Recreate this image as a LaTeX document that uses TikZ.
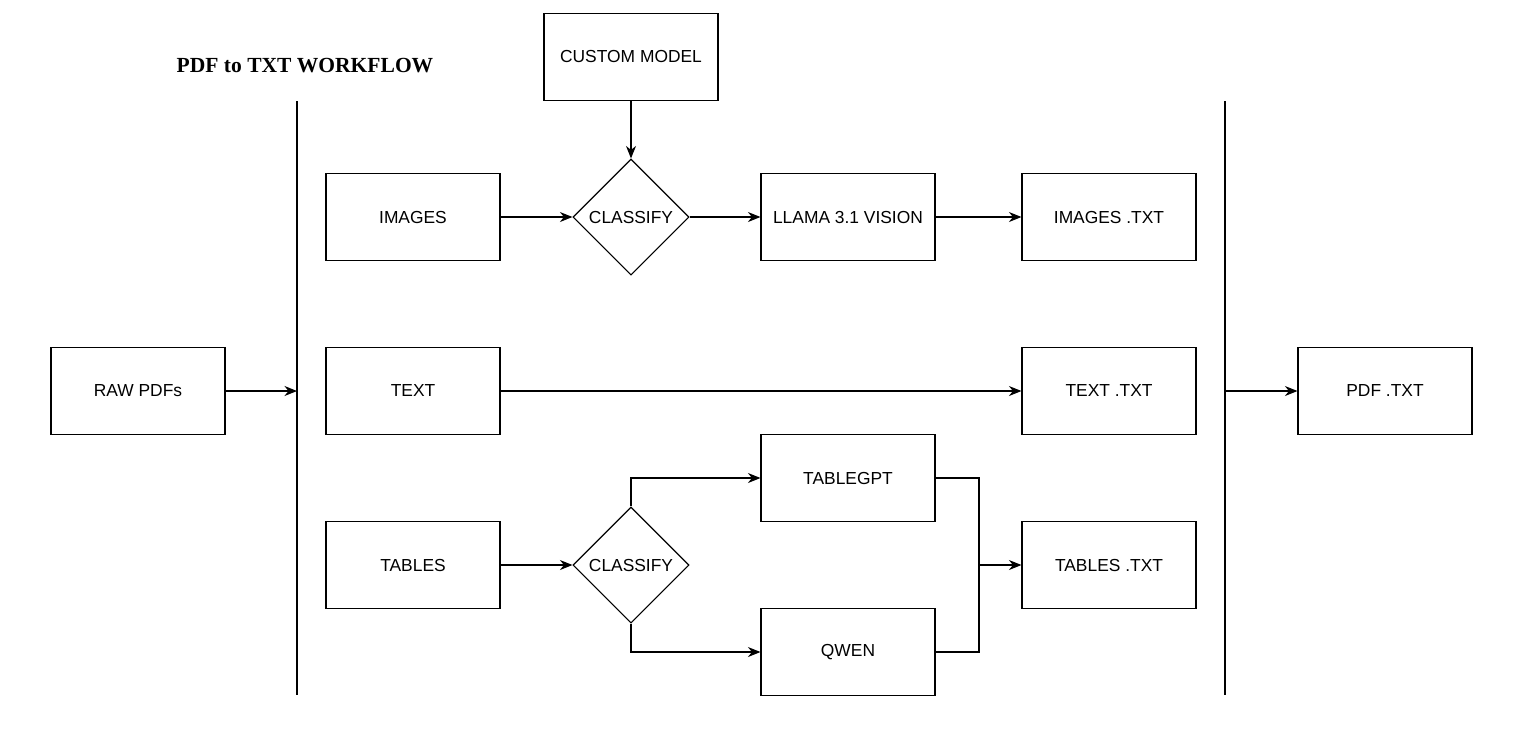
\documentclass[tikz,border=0pt]{standalone}
\usepackage{fontspec}
\setmainfont{Liberation Sans}
\newfontfamily\titlefont{Liberation Serif}
\usepackage{tikz}
\usetikzlibrary{calc}
\usetikzlibrary{positioning}
\usetikzlibrary{shapes.geometric}
\usetikzlibrary{arrows.meta}

\begin{document}
\begin{tikzpicture}[x=0.2mm, y=-0.2mm, >={Stealth[length=2.5mm,width=2mm,inset=0.8mm]},
		box/.style={rectangle, draw, line width=0.22mm, minimum width=34.8mm, minimum height=17.4mm, inner sep=0pt, font=\fontsize{9.9}{12}\selectfont},
		decide/.style={diamond, draw, line width=0.22mm, aspect=1, minimum width=23.2mm, minimum height=23.2mm, inner sep=0pt, font=\fontsize{9.9}{12}\selectfont},
		link/.style={line width=0.22mm}]
				\useasboundingbox (0,0) rectangle (1533,732);
				\node[font=\titlefont\bfseries\fontsize{12.25}{15}\selectfont] (title) at (305,66) {PDF to TXT WORKFLOW};
				
				\node[box] (custom) at (631,57) {CUSTOM MODEL};
				\node[box] (raw) at (138,391) {RAW PDFs};
				\node[box] (images) at (413,217) {IMAGES};
				\node[box] (text) at (413,391) {TEXT};
				\node[box] (tables) at (413,565) {TABLES};
				\node[decide] (cls1) at (631,217) {CLASSIFY};
				\node[decide] (cls2) at (631,565) {CLASSIFY};
				\node[box] (llama) at (848,217) {LLAMA 3.1 VISION};
				\node[box] (tablegpt) at (848,478) {TABLEGPT};
				\node[box] (qwen) at (848,652) {QWEN};
				\node[box] (imgtxt) at (1109,217) {IMAGES .TXT};
				\node[box] (texttxt) at (1109,391) {TEXT .TXT};
				\node[box] (tabtxt) at (1109,565) {TABLES .TXT};
				\node[box] (pdftxt) at (1385,391) {PDF .TXT};
				
				\coordinate (inTop) at (297,101);
				\coordinate (inBot) at (297,695);
				\coordinate (inMid) at (297,391);
				\coordinate (outTop) at (1225,101);
				\coordinate (outBot) at (1225,695);
				\coordinate (outMid) at (1225,391);
				\coordinate (join) at (979,565);
				
				\draw[link] (inTop) -- (inBot);
				\draw[link] (outTop) -- (outBot);
				
				\draw[link, ->] (raw) -- (inMid);
				\draw[link, ->] (outMid) -- (pdftxt);
				\draw[link, ->] (custom) -- (cls1);
				\draw[link, ->] (images) -- (cls1);
				\draw[link, ->] (cls1) -- (llama);
				\draw[link, ->] (llama) -- (imgtxt);
				\draw[link, ->] (text) -- (texttxt);
				\draw[link, ->] (tables) -- (cls2);
				\draw[link, ->] (cls2.north) |- (tablegpt.west);
				\draw[link, ->] (cls2.south) |- (qwen.west);
				\draw[link] (tablegpt.east) -| (join);
				\draw[link] (qwen.east) -| (join);
				\draw[link, ->] (join) -- (tabtxt);
			\end{tikzpicture}
\end{document}
